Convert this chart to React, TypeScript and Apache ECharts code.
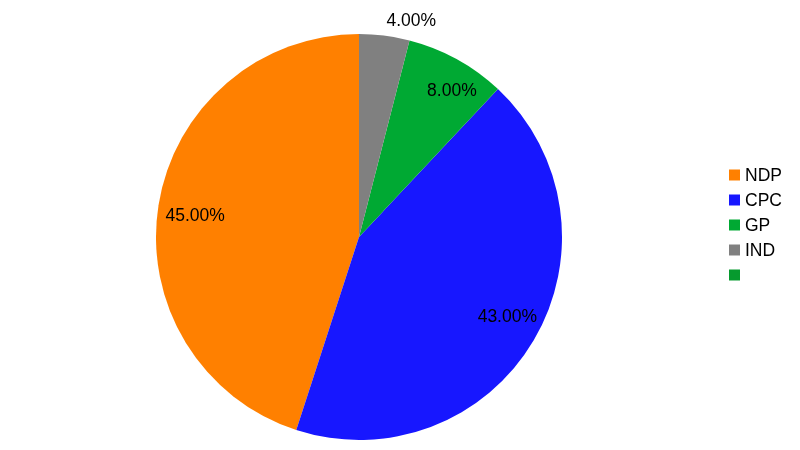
import React, { useEffect, useRef } from "react";
import * as echarts from "echarts";

const parties = ["NDP", "CPC", "GP", "IND"];
const shares = [45, 43, 8, 4];
const partyColors = ["#ff8000", "#1717ff", "#00a933", "#808080"];
const extraLegendName = " ";
const extraLegendColor = "#069a2e";
const outsideLabelParties = ["IND"];
// small label nudges (style only) to mimic the original label placement
const labelNudge: [number, number][] = [[4, 5], [2, -8], [11, 2], [0, 0]];

const FONT = "'Liberation Sans', Arial, sans-serif";
const FS = 17.5;

export default function App() {
  const ref = useRef<HTMLDivElement>(null);

  useEffect(() => {
    if (!ref.current) return;
    const chart = echarts.init(ref.current, undefined, { renderer: "svg" });

    const fmt = (p: any) => p.percent.toFixed(2) + "%";

    const mainData: any[] = parties.map((name, i) => {
      const outside = outsideLabelParties.includes(name);
      return {
        name,
        value: shares[i],
        itemStyle: { color: partyColors[i] },
        label: { show: outside },
      };
    });
    mainData.push({
      name: extraLegendName,
      value: 0,
      itemStyle: { color: extraLegendColor },
      label: { show: false },
    });

    const labelData = parties.map((name, i) => ({
      name,
      value: shares[i],
      itemStyle: { color: "rgba(0,0,0,0)" },
      label: { show: !outsideLabelParties.includes(name), offset: labelNudge[i] },
    }));

    chart.setOption({
      animation: false,
      legend: {
        orient: "vertical",
        left: 724,
        top: 161,
        icon: "rect",
        itemWidth: 11,
        itemHeight: 11,
        itemGap: 7,
        selectedMode: false,
        data: [...parties, extraLegendName],
        textStyle: { fontFamily: FONT, fontSize: FS, lineHeight: 17, color: "#000" },
      },
      series: [
        {
          type: "pie",
          center: [359, 237],
          radius: [0, 203],
          startAngle: 90,
          clockwise: false,
          silent: true,
          avoidLabelOverlap: false,
          itemStyle: { borderWidth: 0 },
          label: {
            position: "outside",
            formatter: fmt,
            fontFamily: FONT,
            fontSize: FS,
            color: "#000",
            distanceToLabelLine: 0,
          },
          labelLine: { show: false, length: 16, length2: 0 },
          data: mainData,
        },
        {
          type: "pie",
          center: [359, 237],
          radius: [131, 203],
          startAngle: 90,
          clockwise: false,
          silent: true,
          avoidLabelOverlap: false,
          itemStyle: { borderWidth: 0 },
          label: {
            position: "inside",
            formatter: fmt,
            fontFamily: FONT,
            fontSize: FS,
            color: "#000",
          },
          labelLine: { show: false },
          data: labelData,
        },
      ],
    });

    return () => chart.dispose();
  }, []);

  return <div ref={ref} style={{ width: 800, height: 450, position: "fixed", left: 0, top: 0 }} />;
}
